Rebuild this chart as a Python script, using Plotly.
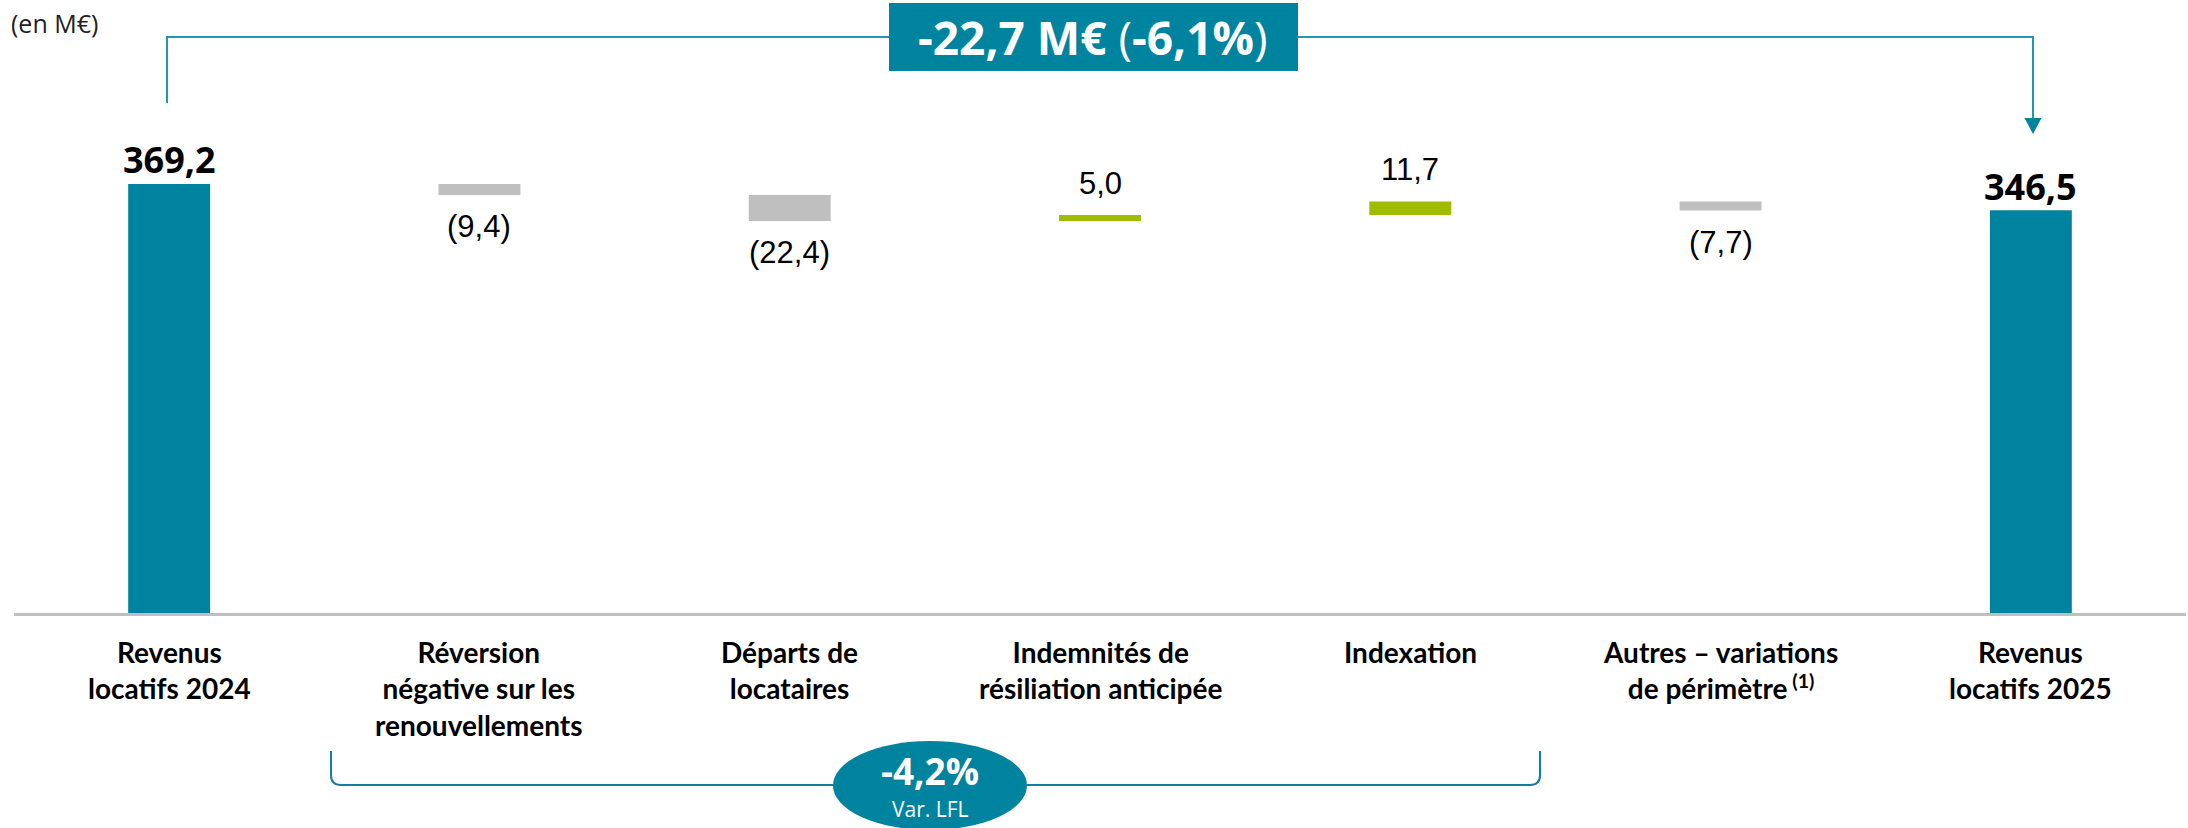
import plotly.graph_objects as go

# ---------------- data ----------------
categories = [
    "Revenus<br>locatifs 2024",
    "Réversion<br>négative sur les<br>renouvellements",
    "Départs de<br>locataires",
    "Indemnités de<br>résiliation anticipée",
    "Indexation",
    "Autres – variations<br>de périmètre<sup> (1)</sup>",
    "Revenus<br>locatifs 2025",
]
values = [369.2, -9.4, -22.4, 5.0, 11.7, -7.7, 346.5]
measures = ["absolute", "relative", "relative", "relative", "relative", "relative", "absolute"]
value_labels = ["369,2", "(9,4)", "(22,4)", "5,0", "11,7", "(7,7)", "346,5"]
total_change_label = "-22,7 M€"
total_change_pct = "-6,1%"
lfl_label = "-4,2%"
lfl_sub = "Var. LFL"
unit_label = "(en M€)"

# ---------------- style ----------------
W, H = 2188, 828
ML, MR, MT, MB = 14, 2, 0, 215
TEAL = "#00839F"
TEAL_LINE = "#2397B1"
GRAY = "#BFBFBF"
GREEN = "#9FBC00"
PW, PH = W - ML - MR, H - MT - MB


def px(x):
    return (x - ML) / PW


def py(y):
    return (H - MB - y) / PH


xs = list(range(len(categories)))

fig = go.Figure()
fig.add_trace(go.Waterfall(
    x=xs, y=values, measure=measures,
    increasing=dict(marker=dict(color=GREEN)),
    decreasing=dict(marker=dict(color=GRAY)),
    totals=dict(marker=dict(color=TEAL)),
    connector=dict(visible=False),
    width=0.264,
    textinfo="none",
    hoverinfo="skip",
))

annotations = []
shapes = []

# value labels
cum = 0.0
for i, (v, m, lab) in enumerate(zip(values, measures, value_labels)):
    if m == "absolute":
        cum = v
        annotations.append(dict(x=i, y=v, xref="x", yref="y", text=f"<b>{lab}</b>",
                                showarrow=False, yanchor="middle", yshift=24,
                                font=dict(family="Open Sans", size=36, color="#000")))
    else:
        cum = cum + v
        shift = 32 if v >= 0 else -32
        annotations.append(dict(x=i, y=cum, xref="x", yref="y", text=lab,
                                showarrow=False, yanchor="middle", yshift=shift,
                                font=dict(family="Liberation Sans", size=31, color="#000")))

# category labels
for i, c in enumerate(categories):
    annotations.append(dict(x=i, y=0, xref="x", yref="y", text=f"<b>{c}</b>",
                            showarrow=False, yanchor="top", yshift=-20,
                            font=dict(family="Lato", size=28, color="#000")))

# unit label
annotations.append(dict(x=px(9), y=py(23), xref="paper", yref="paper", text=unit_label,
                        showarrow=False, xanchor="left", yanchor="middle",
                        font=dict(family="Open Sans", size=25, color="#222")))

# top bracket
shapes.append(dict(type="path", xref="paper", yref="paper",
                   path=f"M {px(167)},{py(103)} L {px(167)},{py(37)} L {px(2033)},{py(37)} L {px(2033)},{py(120)}",
                   line=dict(color=TEAL_LINE, width=2)))
shapes.append(dict(type="path", xref="paper", yref="paper",
                   path=f"M {px(2024.5)},{py(118)} L {px(2041.5)},{py(118)} L {px(2033)},{py(134)} Z",
                   fillcolor=TEAL, line=dict(width=0)))
shapes.append(dict(type="rect", xref="paper", yref="paper",
                   x0=px(889), x1=px(1298), y0=py(71), y1=py(3),
                   fillcolor=TEAL, line=dict(width=0)))
annotations.append(dict(x=px(1093), y=py(37), xref="paper", yref="paper",
                        text=f"<b>{total_change_label} </b>(<b>{total_change_pct}</b>)",
                        showarrow=False, xanchor="center", yanchor="middle",
                        font=dict(family="Open Sans", size=46, color="#fff")))

# bottom bracket (LFL)
r = 10
x0b, x1b, ytop, ybot = 331, 1540, 751, 785
shapes.append(dict(type="path", xref="paper", yref="paper",
                   path=(f"M {px(x0b)},{py(ytop)} L {px(x0b)},{py(ybot - r)} "
                         f"Q {px(x0b)},{py(ybot)} {px(x0b + r)},{py(ybot)} "
                         f"L {px(x1b - r)},{py(ybot)} "
                         f"Q {px(x1b)},{py(ybot)} {px(x1b)},{py(ybot - r)} "
                         f"L {px(x1b)},{py(ytop)}"),
                   line=dict(color="#11809E", width=2)))
shapes.append(dict(type="circle", xref="paper", yref="paper",
                   x0=px(833), x1=px(1027), y0=py(830), y1=py(741),
                   fillcolor=TEAL, line=dict(width=0)))
annotations.append(dict(x=px(930), y=py(770), xref="paper", yref="paper",
                        text=f"<b>{lfl_label}</b>", showarrow=False,
                        xanchor="center", yanchor="middle", borderpad=0,
                        font=dict(family="Open Sans", size=37, color="#fff")))
annotations.append(dict(x=px(930), y=py(809), xref="paper", yref="paper",
                        text=lfl_sub, showarrow=False,
                        xanchor="center", yanchor="middle", borderpad=0,
                        font=dict(family="Open Sans", size=21, color="#fff")))

fig.update_layout(
    width=W, height=H,
    margin=dict(l=ML, r=MR, t=MT, b=MB),
    paper_bgcolor="white", plot_bgcolor="white",
    showlegend=False,
    xaxis=dict(range=[-0.5, len(categories) - 0.5], showticklabels=False, ticks="",
               showgrid=False, zeroline=False, showline=True, linecolor=GRAY, linewidth=3,
               fixedrange=True),
    yaxis=dict(range=[0, 527.5], visible=False, showgrid=False, zeroline=False, fixedrange=True),
    annotations=annotations,
    shapes=shapes,
)

fig.write_html("out.html", config={"displayModeBar": False},
               post_script="document.body.style.margin='0';document.body.style.overflow='hidden';")
